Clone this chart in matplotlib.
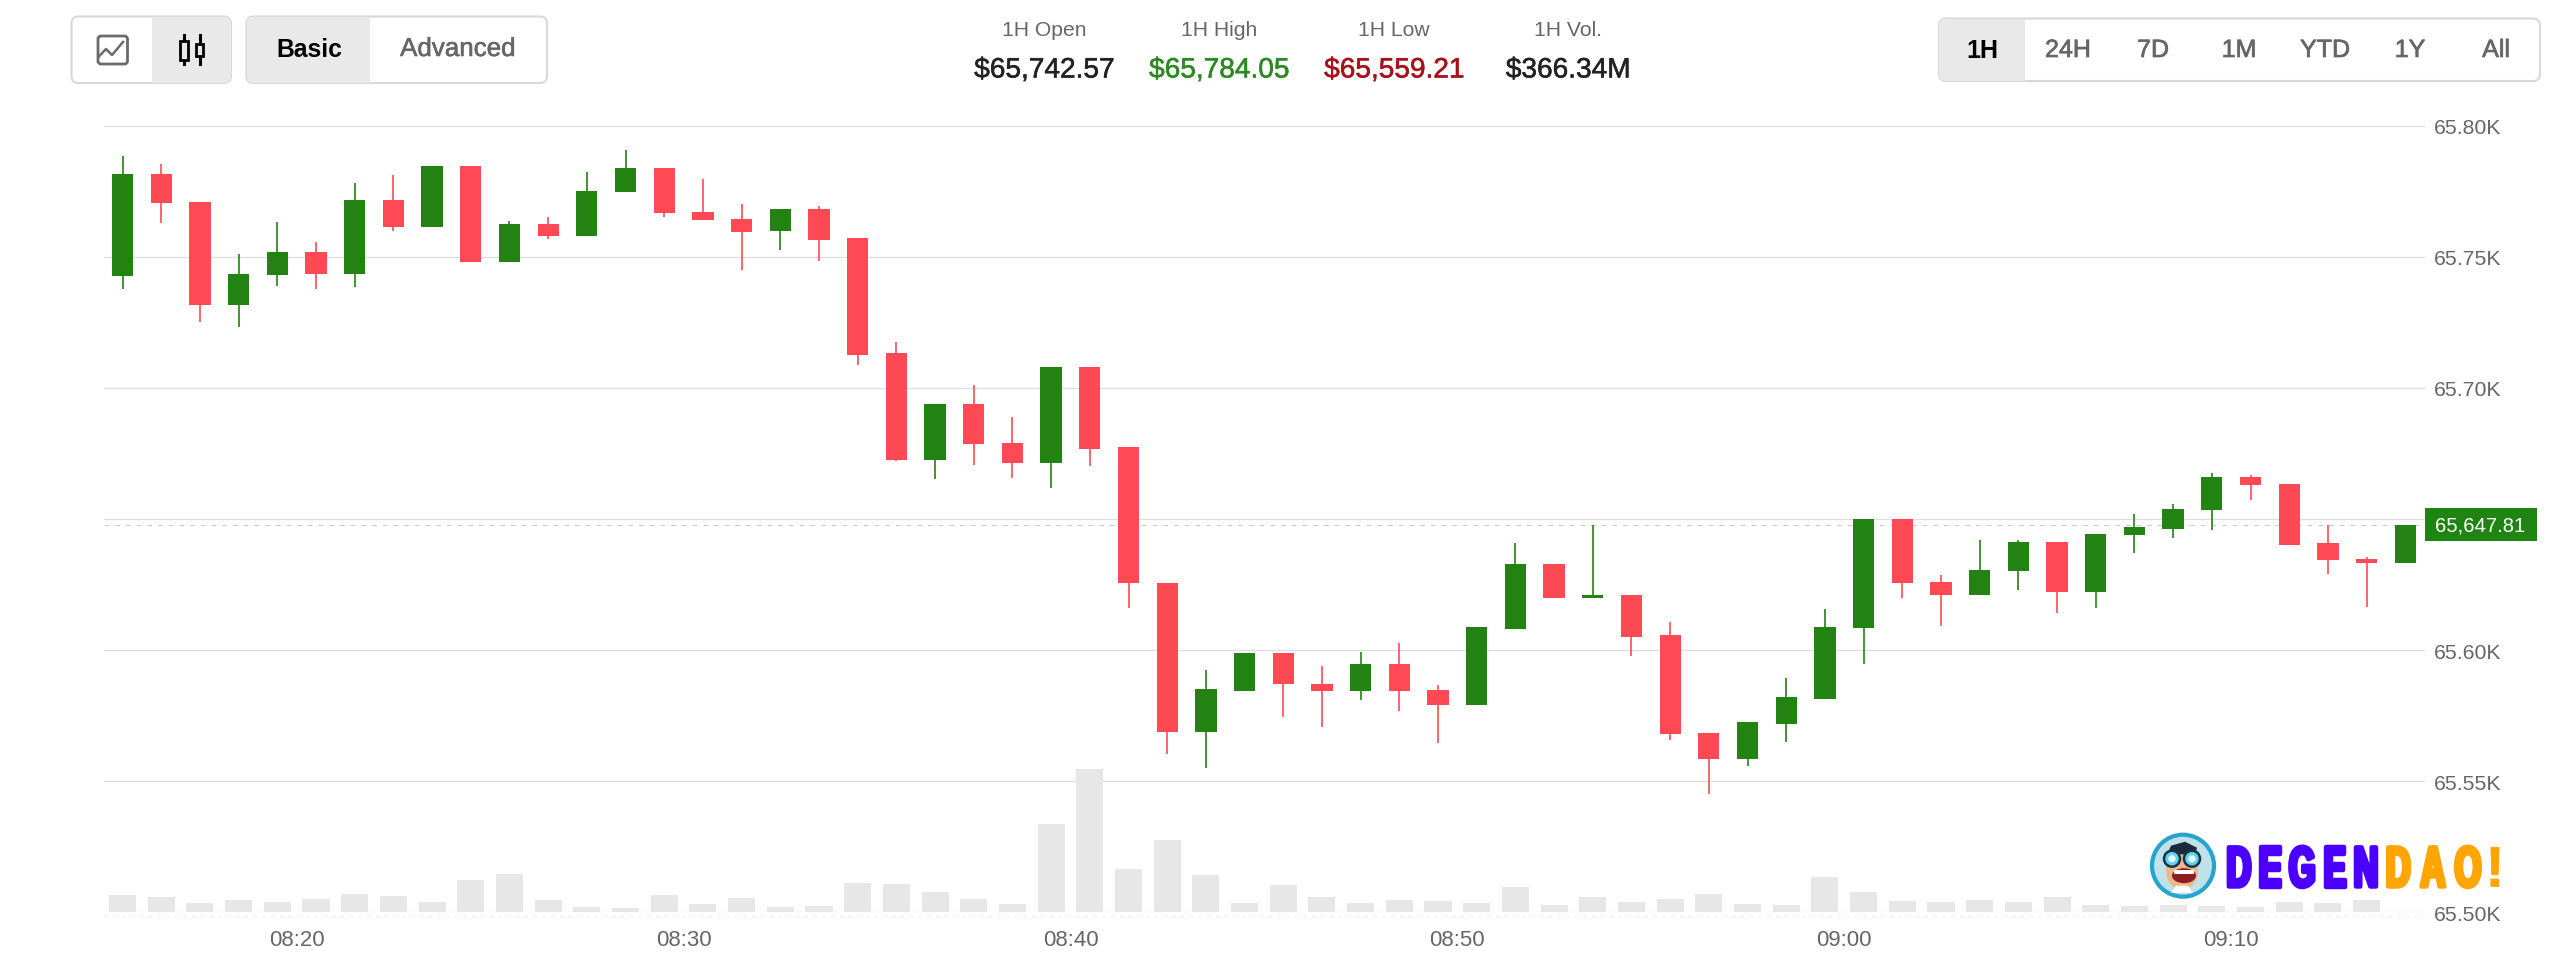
import numpy as np
import matplotlib
matplotlib.use('Agg')
import matplotlib.pyplot as plt
from matplotlib.patches import Circle, Ellipse, FancyBboxPatch, Polygon, Rectangle
from matplotlib.patheffects import AbstractPathEffect
from matplotlib.patheffects import withStroke
from matplotlib.transforms import Affine2D

plt.rcParams['font.family'] = ['Liberation Sans', 'DejaVu Sans']

# BTC one minute candles, 08:15 to 09:15
opens = [65742.5, 65781.4, 65770.7, 65731.7, 65742.9, 65751.7, 65743.3, 65771.7, 65761.2, 65784.4,
         65748.1, 65762.6, 65758.0, 65774.5, 65783.7, 65767.2, 65764.4, 65759.7, 65768.3, 65757.1,
         65713.1, 65672.6, 65693.8, 65679.1, 65671.3, 65707.9, 65677.3, 65625.7, 65568.7, 65584.5,
         65598.9, 65587.2, 65584.5, 65594.6, 65584.9, 65578.9, 65607.9, 65632.7, 65620.0, 65621.0,
         65605.9, 65568.4, 65558.6, 65571.7, 65581.4, 65608.3, 65650.0, 65626.1, 65620.9, 65630.0,
         65641.1, 65622.3, 65643.9, 65646.2, 65653.3, 65665.8, 65663.2, 65640.7, 65634.9, 65633.2]
highs = [65788.3, 65785.2, 65770.7, 65751.1, 65763.3, 65755.5, 65778.2, 65781.0, 65784.4, 65784.4,
         65763.7, 65765.3, 65782.2, 65790.5, 65783.7, 65779.5, 65770.1, 65768.3, 65769.3, 65757.1,
         65717.4, 65693.8, 65701.1, 65688.7, 65707.9, 65707.9, 65677.3, 65625.7, 65592.3, 65598.9,
         65598.9, 65594.0, 65599.1, 65602.6, 65586.5, 65608.7, 65640.7, 65632.7, 65647.8, 65621.0,
         65610.5, 65568.4, 65572.5, 65589.4, 65615.8, 65650.0, 65650.0, 65628.8, 65642.0, 65641.9,
         65641.1, 65644.3, 65651.7, 65655.6, 65667.4, 65666.6, 65663.2, 65647.8, 65635.3, 65647.81]
lows = [65737.7, 65762.8, 65725.2, 65723.3, 65738.9, 65737.7, 65738.3, 65759.8, 65761.2, 65748.1,
        65748.1, 65756.7, 65758.0, 65774.5, 65765.0, 65763.9, 65744.9, 65752.5, 65748.3, 65708.8,
        65672.0, 65665.4, 65670.7, 65665.7, 65661.7, 65670.2, 65616.0, 65560.2, 65555.0, 65584.5,
        65574.3, 65570.5, 65581.1, 65576.8, 65564.5, 65578.9, 65607.9, 65620.0, 65620.0, 65597.6,
        65565.6, 65545.0, 65555.8, 65564.8, 65581.4, 65594.5, 65620.0, 65609.2, 65620.9, 65622.9,
        65614.2, 65616.1, 65637.0, 65642.8, 65645.9, 65657.1, 65640.1, 65629.0, 65616.4, 65633.2]
closes = [65781.4, 65770.5, 65731.7, 65743.5, 65751.7, 65743.3, 65771.7, 65761.2, 65784.4, 65748.1,
          65762.6, 65758.0, 65775.0, 65783.7, 65766.5, 65763.9, 65759.5, 65768.3, 65756.5, 65712.6,
          65672.6, 65693.8, 65678.6, 65671.3, 65707.9, 65676.6, 65625.4, 65568.7, 65585.2, 65598.9,
          65586.9, 65584.5, 65594.6, 65584.5, 65578.9, 65608.7, 65632.7, 65620.0, 65621.0, 65605.1,
          65568.0, 65558.6, 65572.5, 65582.0, 65608.9, 65650.0, 65625.5, 65620.9, 65630.7, 65641.1,
          65622.3, 65644.3, 65646.8, 65653.6, 65665.8, 65663.0, 65640.1, 65634.4, 65633.2, 65647.81]
# volume per minute in $M
volumes = [5.7, 5.0, 2.9, 3.9, 3.4, 4.3, 6.0, 5.2, 3.2, 10.5,
           12.3, 4.0, 1.7, 1.4, 5.7, 2.7, 4.5, 1.6, 2.1, 9.6,
           9.2, 6.6, 4.3, 2.7, 28.6, 46.4, 14.0, 23.5, 12.0, 2.9,
           8.9, 4.9, 2.9, 3.9, 3.8, 2.9, 8.2, 2.3, 5.1, 3.4,
           4.3, 5.8, 2.7, 2.4, 11.5, 6.6, 3.6, 3.4, 4.1, 3.5,
           5.0, 2.4, 2.1, 2.4, 1.9, 1.8, 3.2, 3.0, 4.1, 0.0]

y_ticks = [65500, 65550, 65600, 65650, 65700, 65750, 65800]
# the 65.65K row sits under the last price tag
y_labels = ['65.50K', '65.55K', '65.60K', '', '65.70K', '65.75K', '65.80K']
x_ticks = [500, 510, 520, 530, 540, 550]  # minutes since midnight
x_labels = ['08:20', '08:30', '08:40', '08:50', '09:00', '09:10']

stat_names = ['1H Open', '1H High', '1H Low', '1H Vol.']
stat_values = ['$65,742.57', '$65,784.05', '$65,559.21', '$366.34M']
ranges = ['1H', '24H', '7D', '1M', 'YTD', '1Y', 'All']

GREEN = '#228212'
RED = '#ff4a55'
GREY = '#666666'
GRID = '#dedede'
BAR = '#e7e7e7'
BUTTON = '#e9e9e9'
BORDER = '#d9d9d9'

W, H = 2560, 954
fig = plt.figure(figsize=(W / 100, H / 100), dpi=100, facecolor='white')

# price chart
ax = fig.add_axes([104 / W, 1 - 913.3 / H, (2425 - 104) / W, (913.3 - 126.5) / H])
ax.set_xlim(495.02, 555.01)
ax.set_ylim(65500, 65800)
for side in ax.spines.values():
    side.set_visible(False)

ax.yaxis.tick_right()
ax.set_yticks(y_ticks, y_labels)
ax.set_xticks(x_ticks, x_labels)
ax.tick_params(axis='y', length=0, pad=6.5, labelsize=15.3, labelcolor=GREY)
ax.tick_params(axis='x', length=0, pad=12, labelsize=16, labelcolor=GREY)
ax.grid(axis='y', color=GRID, linewidth=0.9, zorder=1)
ax.set_axisbelow(True)

minutes = 495.5 + np.arange(len(opens))
opens_a = np.array(opens)
closes_a = np.array(closes)
colors = [GREEN if c >= o else RED for o, c in zip(opens, closes)]

# volume shares the price axes, scaled so 255.6M fills the full height
vol_scale = (y_ticks[-1] - y_ticks[0]) / 255.6
ax.bar(minutes, np.array(volumes) * vol_scale, bottom=y_ticks[0], width=0.7, color=BAR, zorder=2)

last = closes[-1]
ax.axhline(last, color='#c8c8c8', linewidth=0.7, dashes=(5, 6), zorder=2.5)

ax.vlines(minutes, lows, highs, color=colors, linewidth=1.2, zorder=3)
body_low = np.minimum(opens_a, closes_a)
body_h = np.abs(closes_a - opens_a)
ax.bar(minutes, body_h, bottom=body_low, width=0.55, color=colors, zorder=4)

# last price tag on the right
ax.add_patch(Rectangle((1.0, last - 6.3), 112 / 2321, 12.6, transform=ax.get_yaxis_transform(),
                       facecolor='#1f8412', edgecolor='none', clip_on=False, zorder=5))
ax.text(1 + 9.5 / 2321, last, f'{last:,.2f}', transform=ax.get_yaxis_transform(),
        color='white', fontsize=14.6, ha='left', va='center', zorder=6)

# header controls, in pixel coordinates
ui = fig.add_axes([0, 0, 1, 1], zorder=5)
ui.set_xlim(0, W)
ui.set_ylim(H, 0)
ui.axis('off')
ui.patch.set_alpha(0)


def button_group(x0, x1, y0, y1, fill_x0, fill_x1):
    box = FancyBboxPatch((x0, y0), x1 - x0, y1 - y0, boxstyle='round,pad=0,rounding_size=7',
                         facecolor='white', edgecolor=BORDER, linewidth=1.5, zorder=2)
    ui.add_patch(box)
    shade = Rectangle((fill_x0, y0), fill_x1 - fill_x0, y1 - y0, facecolor=BUTTON, edgecolor='none', zorder=1.5)
    shade.set_clip_path(box)
    ui.add_patch(shade)
    shade.set_zorder(2.1)


button_group(71.5, 231, 17.5, 84, 152, 231)
button_group(246.5, 547, 17.5, 84, 246.5, 370)
button_group(1939, 2540, 19.5, 82, 1939, 2025)

# line chart icon
ui.add_patch(FancyBboxPatch((98, 37), 29.5, 28, boxstyle='round,pad=0,rounding_size=3',
                            facecolor='none', edgecolor='#6b6b6b', linewidth=2, zorder=3))
ui.plot([98.5, 106, 112, 123], [58, 50, 56, 43], color='#6b6b6b', linewidth=1.8, zorder=3)

# candlestick icon
for cx, top, bottom, half in [(184, 41.7, 61, 4.2), (199.6, 45, 56.7, 3.8)]:
    ui.plot([cx, cx], [36, 65], color='black', linewidth=2.2, zorder=3)
    ui.add_patch(Rectangle((cx - half, top), half * 2, bottom - top, facecolor=BUTTON,
                           edgecolor='black', linewidth=2, zorder=4))

ui.text(309, 50, 'Basic', color='black', fontsize=17.8, fontweight='bold', ha='center', va='center', zorder=5)
ui.text(458, 50, 'Advanced', color=GREY, fontsize=18.7, ha='center', va='center', zorder=5,
        path_effects=[withStroke(linewidth=0.4, foreground=GREY)])

range_x = [1982, 2068, 2153, 2239, 2325, 2410, 2496]
for i, (name, rx) in enumerate(zip(ranges, range_x)):
    ui.text(rx, 51, name, color='black' if i == 0 else GREY, fontsize=18, ha='center', va='center', zorder=5,
            fontweight='bold' if i == 0 else 'normal',
            path_effects=[] if i == 0 else [withStroke(linewidth=0.5, foreground=GREY)])

# 1H summary
stat_x = [1044, 1219, 1394, 1568]
value_colors = ['#222222', '#2b8a22', '#a8101a', '#222222']
for name, value, sx, vc in zip(stat_names, stat_values, stat_x, value_colors):
    ui.text(sx, 31, name, color=GREY, fontsize=15.2, ha='center', va='center')
    ui.text(sx, 71.5, value, color=vc, fontsize=20.2, ha='center', va='center',
            path_effects=[withStroke(linewidth=0.4, foreground=vc)])

# faint axis line under the volume bars
ui.plot([104, 2425], [917, 917], color='#eeeeee', linewidth=0.7, dashes=(4, 5), zorder=1)

# watermark
cx, cy = 2183, 866.7
ui.add_patch(Circle((cx, cy), 31, facecolor='#bfe2ea', edgecolor='#27a3cf', linewidth=3, zorder=6))
ui.add_patch(Ellipse((cx - 1, cy + 5), 32, 38, facecolor='#f0b68c', zorder=7))
ui.add_patch(Polygon([(cx - 18, cy - 6), (cx - 12, cy - 20), (cx + 2, cy - 24), (cx + 14, cy - 18),
                      (cx + 12, cy - 10), (cx - 8, cy - 12)], facecolor='#1d2a3a', zorder=7))
for gx, r in [(cx - 11, 8), (cx + 9, 8)]:
    ui.add_patch(Circle((gx, cy - 7), r, facecolor='#5fd3f0', edgecolor='#14344a', linewidth=1.8, zorder=8))
    ui.add_patch(Circle((gx, cy - 7), r * 0.45, facecolor='#e8fbff', zorder=9))
ui.add_patch(Ellipse((cx + 1, cy + 10), 24, 15, facecolor='#8c1d22', zorder=8))
ui.add_patch(Rectangle((cx - 9, cy + 4), 20, 4, facecolor='white', zorder=9))
ui.add_patch(Polygon([(cx - 12, cy + 27), (cx + 10, cy + 27), (cx + 5, cy + 20), (cx - 7, cy + 20)],
                     facecolor='white', zorder=7))


class Condensed(AbstractPathEffect):
    # squeeze a glyph sideways around its own centre and thicken it
    def __init__(self, ratio, thicken):
        super().__init__()
        self.ratio = ratio
        self.thicken = thicken

    def draw_path(self, renderer, gc, tpath, affine, rgbFace):
        box = tpath.get_extents(affine)
        mid = (box.x0 + box.x1) / 2
        squeezed = affine + Affine2D().translate(-mid, 0).scale(self.ratio, 1).translate(mid, 0)
        gc0 = renderer.new_gc()
        gc0.copy_properties(gc)
        gc0.set_foreground(rgbFace)
        gc0.set_linewidth(self.thicken)
        renderer.draw_path(gc0, tpath, squeezed, rgbFace)
        gc0.restore()


logo_letters = ['D', 'E', 'G', 'E', 'N', 'D', 'A', 'O', '!']
logo_x = [2238.6, 2270, 2302.5, 2334.6, 2366, 2398, 2433, 2468, 2495]
logo_colors = ['#4b00ff'] * 5 + ['#ffa500'] * 4
for ch, lx, lc in zip(logo_letters, logo_x, logo_colors):
    # the exclamation mark keeps a thin edge so its dot stays separate
    effect = Condensed(1.0, 0.6) if ch == '!' else Condensed(0.6, 3.2)
    ui.text(lx, 866.5, ch, color=lc, fontsize=41, fontweight='bold', ha='center', va='center_baseline',
            zorder=6, path_effects=[effect])

fig.savefig('out.png', dpi=100, facecolor='white')
